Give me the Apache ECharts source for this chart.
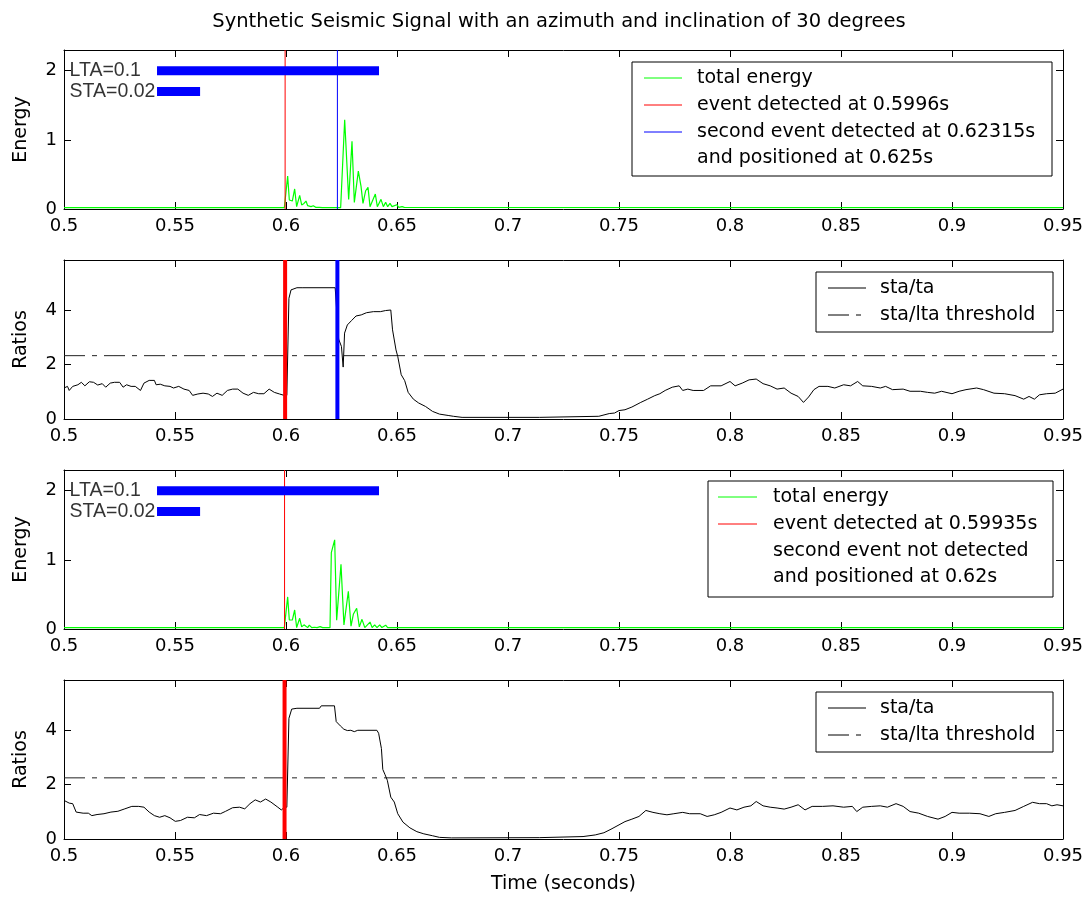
<!DOCTYPE html>
<html><head><meta charset="utf-8">
<script src="https://cdn.jsdelivr.net/npm/echarts@6/dist/echarts.min.js"></script>
<style>html,body{margin:0;padding:0;background:#fff}#c{width:1089px;height:897px}</style>
</head><body><div id="c"></div>
<script>
// ---------------- DATA ----------------
const X_MIN = 0.5, X_MAX = 0.95, X_STEP = 0.05;
const ENERGY_MAX = 2.3, ENERGY_STEP = 1;
const RATIO_MAX = 5.85, RATIO_STEP = 2;

const titleText = 'Synthetic Seismic Signal with an azimuth and inclination of 30 degrees';
const xName = 'Time (seconds)';
const yNames = ['Energy', 'Ratios', 'Energy', 'Ratios'];

// window bars (time range and level)
const ltaLabel = 'LTA=0.1', staLabel = 'STA=0.02';
const ltaBar = [[0.5419, 2.0], [0.6419, 2.0]];
const staBar = [[0.5419, 1.7], [0.5613, 1.7]];
const barLabelT = 0.5025;

// events
const event1 = 0.5996, event1b = 0.62315, event3 = 0.59935;
const threshold2 = 2.33, threshold4 = 2.25;

// panel 1 energy
const energy1T = [0.5,0.59925,0.60075,0.6015,0.60285,0.6039,0.6048,0.60616,0.60706,0.6081,0.609,0.60976,0.6105,0.61126,0.6123,0.61336,0.61411,0.61502,0.61562,0.61637,0.62462,0.62643,0.62823,0.62973,0.63078,0.63258,0.63378,0.63468,0.63589,0.63694,0.63784,0.64024,0.64114,0.6428,0.64384,0.6449,0.6458,0.64685,0.64775,0.6499,0.6508,0.6523,0.6533,0.95];
const energy1V = [0.02,0.02,0.475,0.13,0.115,0.29,0.034,0.197,0.058,0.08,0.115,0.048,0.072,0.034,0.048,0.024,0.043,0.024,0.038,0.019,0.019,1.29,0.139,0.978,0.096,0.547,0.33,0.082,0.264,0.312,0.034,0.216,0.034,0.139,0.034,0.096,0.034,0.082,0.034,0.062,0.024,0.034,0.024,0.02];

// panel 3 energy
const energy3T = [0.5,0.59925,0.60075,0.6015,0.60285,0.6039,0.6048,0.60616,0.60706,0.6081,0.609,0.60976,0.6105,0.6116,0.6128,0.614,0.6154,0.6165,0.61982,0.62042,0.62192,0.62282,0.62477,0.6261,0.62808,0.62928,0.63033,0.63183,0.63303,0.63423,0.6355,0.63784,0.6388,0.63994,0.641,0.6422,0.6432,0.6449,0.6458,0.95];
const energy3V = [0.02,0.02,0.464,0.13,0.13,0.275,0.02,0.155,0.03,0.06,0.085,0.02,0.055,0.02,0.025,0.02,0.035,0.02,0.02,1.106,1.29,0.126,0.937,0.06,0.546,0.04,0.213,0.3,0.03,0.14,0.02,0.1,0.02,0.06,0.02,0.06,0.02,0.055,0.02,0.02];

// panel 2 sta/lta ratio
const ratio2T = [0.5,0.50157,0.50235,0.50392,0.50626,0.50783,0.5094,0.51143,0.51331,0.51519,0.51723,0.51879,0.52083,0.52271,0.52506,0.52662,0.52819,0.53022,0.5321,0.53445,0.53602,0.53837,0.54072,0.5415,0.54338,0.54541,0.54776,0.54933,0.55168,0.55403,0.55638,0.55794,0.56029,0.56264,0.56499,0.56687,0.5689,0.57125,0.5736,0.57595,0.5783,0.58065,0.583,0.58535,0.5877,0.59005,0.5924,0.59474,0.59709,0.59913,0.60038,0.60132,0.60226,0.60492,0.60727,0.62215,0.62371,0.62497,0.62575,0.62638,0.62763,0.6295,0.63154,0.63389,0.63624,0.63937,0.64251,0.64486,0.6472,0.64799,0.64955,0.65034,0.6519,0.65347,0.65503,0.65738,0.65973,0.66286,0.666,0.66913,0.67304,0.67539,0.67931,0.7141,0.7409,0.7456,0.748,0.75,0.7527,0.7558,0.7598,0.7629,0.7661,0.7684,0.7708,0.774,0.7771,0.7787,0.781,0.7834,0.7881,0.7913,0.796,0.8,0.8023,0.8055,0.8086,0.8118,0.8149,0.8181,0.8212,0.8244,0.8275,0.8307,0.8331,0.8354,0.8378,0.8401,0.8441,0.8472,0.8512,0.8543,0.8575,0.8598,0.8638,0.8677,0.8701,0.8732,0.878,0.8811,0.8858,0.889,0.8922,0.8953,0.9,0.9032,0.9063,0.9111,0.9142,0.9189,0.9237,0.9284,0.9323,0.9347,0.9371,0.9394,0.9426,0.9465,0.95];
const ratio2V = [1.14,1.2,1.05,1.2,1.26,1.35,1.22,1.37,1.35,1.25,1.3,1.17,1.32,1.35,1.35,1.17,1.26,1.2,1.2,1.05,1.32,1.42,1.42,1.26,1.28,1.22,1.2,1.14,1.2,1.1,1.05,0.87,0.92,0.95,0.92,0.83,0.95,0.87,1.05,1.1,1.1,0.95,0.87,0.98,0.93,0.93,1.1,0.98,0.92,0.87,0.87,4.44,4.75,4.83,4.83,4.83,2.94,2.67,1.91,3.16,3.46,3.62,3.79,3.83,3.91,3.95,3.95,3.99,4.01,3.28,2.54,2.3,1.63,1.41,0.98,0.73,0.59,0.46,0.28,0.18,0.13,0.1,0.06,0.06,0.1,0.2,0.22,0.31,0.34,0.44,0.61,0.73,0.86,0.93,1.05,1.17,1.22,1.05,1.1,1.05,1.05,1.22,1.22,1.38,1.22,1.32,1.44,1.47,1.3,1.22,1.1,1.14,0.95,0.83,0.61,0.81,1.08,1.2,1.2,1.14,1.26,1.22,1.38,1.22,1.2,1.14,1.2,1.08,1.1,1.02,1.02,0.98,0.95,1.02,0.93,1.02,1.08,1.14,1.08,0.95,0.93,0.86,0.73,0.83,0.73,0.89,0.93,0.95,1.1];

// panel 4 sta/lta ratio
const ratio4T = [0.5,0.50235,0.50392,0.50548,0.50861,0.51096,0.51253,0.51488,0.51801,0.52114,0.52427,0.52741,0.53054,0.53367,0.53602,0.53837,0.54072,0.54307,0.54541,0.54776,0.55011,0.55246,0.55559,0.55873,0.56107,0.56421,0.56734,0.57047,0.57282,0.57595,0.57908,0.58143,0.58378,0.58613,0.58848,0.59083,0.59318,0.59631,0.59788,0.59944,0.60038,0.60132,0.60257,0.60492,0.6151,0.61588,0.62183,0.62262,0.6245,0.62606,0.62763,0.6292,0.63076,0.63233,0.64094,0.64173,0.64298,0.6436,0.64454,0.64564,0.6472,0.64877,0.65034,0.65269,0.65582,0.65895,0.66208,0.666,0.66913,0.67461,0.7141,0.7338,0.7393,0.7432,0.7464,0.75,0.7527,0.7558,0.759,0.7621,0.7653,0.7684,0.7716,0.7747,0.7787,0.7818,0.7866,0.7897,0.7929,0.796,0.8,0.8031,0.8063,0.8094,0.8118,0.8149,0.8181,0.8212,0.8244,0.8275,0.8307,0.8338,0.837,0.8417,0.8464,0.8512,0.8551,0.8571,0.8598,0.8638,0.8677,0.8709,0.8748,0.878,0.8811,0.885,0.889,0.8937,0.8969,0.9,0.9032,0.9079,0.9126,0.9166,0.9197,0.9237,0.9284,0.9323,0.9363,0.9394,0.9426,0.945,0.9473,0.95];
const ratio4V = [1.42,1.32,1.3,0.99,0.95,0.95,0.86,0.9,0.93,0.99,1.02,1.11,1.2,1.2,1.17,0.99,0.86,0.8,0.86,0.78,0.65,0.68,0.8,0.78,0.9,0.86,0.95,0.93,1.02,1.15,1.17,1.11,1.3,1.44,1.36,1.47,1.36,1.17,1.07,1.17,1.17,4.44,4.78,4.81,4.81,4.9,4.9,4.32,4.16,4.04,3.99,4.0,3.95,4.0,4.0,3.89,3.33,2.56,2.38,2.16,1.54,1.36,0.93,0.62,0.41,0.27,0.19,0.12,0.06,0.04,0.05,0.09,0.15,0.23,0.36,0.52,0.64,0.73,0.83,1.05,0.98,0.93,0.89,0.93,0.98,0.93,0.93,0.83,0.89,0.98,1.14,1.07,1.17,1.22,1.38,1.22,1.17,1.14,1.1,1.17,1.26,1.07,1.2,1.2,1.22,1.17,1.2,1.01,1.17,1.2,1.22,1.17,1.3,1.2,1.01,0.95,0.83,0.73,0.83,0.98,0.95,0.95,0.93,0.83,0.93,0.98,1.05,1.2,1.35,1.3,1.3,1.22,1.26,1.22];

const legend1Labels = ['total energy', 'event detected at 0.5996s', 'second event detected at 0.62315s', 'and positioned at 0.625s'];
const legend2Labels = ['sta/ta', 'sta/lta threshold'];
const legend3Labels = ['total energy', 'event detected at 0.59935s', 'second event not detected', 'and positioned at 0.62s'];

// ---------------- STYLE / LAYOUT ----------------
const FONT = 'DejaVu Sans';
const FONT2 = 'Liberation Sans';
const FS = 19, FS_TITLE = 19.5, FS_TICK = 18, FS_BAR = 19.5;
const GREEN = '#00ff00', RED = '#ff0000', BLUE = '#0000ff', BLACK = '#000000';
const DASHDOT = [21, 7, 5, 7];
const PLOT_LEFT = 64, PLOT_W = 999, PLOT_H = 159;
const PLOT_TOPS = [50, 260, 470, 680];

const zip = (T, V) => T.map((t, i) => [t, V[i]]);

function xPair(g, name) {
  const base = {
    type: 'value', gridIndex: g, min: X_MIN, max: X_MAX, interval: X_STEP,
    axisLine: { show: true, onZero: false, lineStyle: { color: BLACK, width: 1 } },
    axisTick: { show: true, inside: true, length: 7, lineStyle: { color: BLACK } },
    splitLine: { show: false }
  };
  return [
    Object.assign({}, base, {
      position: 'bottom',
      axisLabel: { show: true, color: BLACK, fontFamily: FONT, fontSize: FS_TICK, margin: 8,
        showMinLabel: true, showMaxLabel: true, hideOverlap: false,
        formatter: v => String(+(+v).toFixed(2)) },
      name: name || '', nameLocation: 'middle', nameGap: 36,
      nameTextStyle: { color: BLACK, fontFamily: FONT, fontSize: FS }
    }),
    Object.assign({}, base, { position: 'top', axisLabel: { show: false } })
  ];
}
function yPair(g, max, step, name) {
  const base = {
    type: 'value', gridIndex: g, min: 0, max: max, interval: step,
    axisLine: { show: true, onZero: false, lineStyle: { color: BLACK, width: 1 } },
    axisTick: { show: true, inside: true, length: 7, lineStyle: { color: BLACK } },
    splitLine: { show: false }
  };
  return [
    Object.assign({}, base, {
      position: 'left',
      axisLabel: { color: BLACK, fontFamily: FONT, fontSize: FS_TICK, margin: 7,
        formatter: v => Math.abs(v - Math.round(v)) < 1e-9 ? String(Math.round(v)) : '' },
      name: name, nameLocation: 'middle', nameGap: 33, nameRotate: 90,
      nameTextStyle: { color: BLACK, fontFamily: FONT, fontSize: FS }
    }),
    Object.assign({}, base, { position: 'right', axisLabel: { show: false } })
  ];
}

function line(g, data, color, width, extra) {
  return Object.assign({
    type: 'line', xAxisIndex: 2 * g, yAxisIndex: 2 * g, data: data,
    showSymbol: false, symbol: 'none', animation: false, silent: true,
    lineStyle: { color: color, width: width }, z: 2
  }, extra || {});
}
function vline(g, t, ymax, color, width) {
  return line(g, [[t, 0], [t, ymax]], color, width, { z: 3 });
}
function barLabel(g, t, y, text) {
  return {
    type: 'scatter', xAxisIndex: 2 * g, yAxisIndex: 2 * g, data: [[t, y]],
    symbolSize: 0, animation: false, silent: true, z: 5,
    label: { show: true, position: 'right', distance: 0, formatter: text,
      color: BLACK, fontFamily: FONT2, fontSize: FS_BAR }
  };
}

function legendBox(x, y, w, h, rows) {
  const els = [{ type: 'rect', z: 100, shape: { x: x, y: y, width: w, height: h },
    style: { fill: '#fff', stroke: BLACK, lineWidth: 1 } }];
  rows.forEach(r => {
    if (r.color) {
      els.push({ type: 'line', z: 101, shape: { x1: r.lx1, y1: r.y, x2: r.lx2, y2: r.y },
        style: { stroke: r.color, lineWidth: 1, lineDash: r.dash || null } });
    }
    els.push({ type: 'text', z: 101, x: r.tx, y: r.y,
      style: { text: r.text, fill: BLACK, font: FS + 'px "' + FONT + '"',
        fontSize: FS, fontFamily: FONT, align: 'left', verticalAlign: 'middle' } });
  });
  return els;
}

const grids = PLOT_TOPS.map(t => ({ left: PLOT_LEFT, top: t, width: PLOT_W, height: PLOT_H, containLabel: false }));
const xAxes = [].concat(xPair(0), xPair(1), xPair(2), xPair(3, xName));
const yAxes = [].concat(
  yPair(0, ENERGY_MAX, ENERGY_STEP, yNames[0]),
  yPair(1, RATIO_MAX, RATIO_STEP, yNames[1]),
  yPair(2, ENERGY_MAX, ENERGY_STEP, yNames[2]),
  yPair(3, RATIO_MAX, RATIO_STEP, yNames[3]));

const threshStyle = { lineStyle: { color: '#222', width: 1, type: DASHDOT } };
const series = [
  // panel 1
  line(0, zip(energy1T, energy1V), GREEN, 1.2),
  vline(0, event1, ENERGY_MAX, RED, 1),
  vline(0, event1b, ENERGY_MAX, BLUE, 1),
  line(0, ltaBar, BLUE, 9, { z: 4 }),
  line(0, staBar, BLUE, 9, { z: 4 }),
  barLabel(0, barLabelT, ltaBar[0][1], ltaLabel),
  barLabel(0, barLabelT, staBar[0][1], staLabel),
  // panel 2
  line(1, [[X_MIN, threshold2], [X_MAX, threshold2]], '#222', 1, threshStyle),
  line(1, zip(ratio2T, ratio2V), BLACK, 1),
  vline(1, event1, RATIO_MAX, RED, 4),
  vline(1, event1b, RATIO_MAX, BLUE, 4),
  // panel 3
  line(2, zip(energy3T, energy3V), GREEN, 1.2),
  vline(2, event3, ENERGY_MAX, RED, 1),
  line(2, ltaBar, BLUE, 9, { z: 4 }),
  line(2, staBar, BLUE, 9, { z: 4 }),
  barLabel(2, barLabelT, ltaBar[0][1], ltaLabel),
  barLabel(2, barLabelT, staBar[0][1], staLabel),
  // panel 4
  line(3, [[X_MIN, threshold4], [X_MAX, threshold4]], '#222', 1, threshStyle),
  line(3, zip(ratio4T, ratio4V), BLACK, 1),
  vline(3, event3, RATIO_MAX, RED, 4)
];

const graphics = [].concat(
  [{ type: 'text', z: 100, x: 559, y: 22,
     style: { text: titleText, fill: BLACK, font: FS_TITLE + 'px "' + FONT + '"', fontSize: FS_TITLE, fontFamily: FONT,
       align: 'center', verticalAlign: 'middle' } }],
  legendBox(632, 62, 420, 114, [
    { text: legend1Labels[0], color: GREEN, y: 78, lx1: 644, lx2: 682, tx: 697 },
    { text: legend1Labels[1], color: RED, y: 105, lx1: 644, lx2: 682, tx: 697 },
    { text: legend1Labels[2], color: BLUE, y: 132, lx1: 644, lx2: 682, tx: 697 },
    { text: legend1Labels[3], color: null, y: 158, tx: 697 }
  ]),
  legendBox(816, 272, 237, 60, [
    { text: legend2Labels[0], color: BLACK, y: 288, lx1: 828, lx2: 866, tx: 880 },
    { text: legend2Labels[1], color: BLACK, y: 315, lx1: 828, lx2: 866, tx: 880, dash: DASHDOT }
  ]),
  legendBox(708, 481, 345, 116, [
    { text: legend3Labels[0], color: GREEN, y: 497, lx1: 718, lx2: 757, tx: 773 },
    { text: legend3Labels[1], color: RED, y: 524, lx1: 718, lx2: 757, tx: 773 },
    { text: legend3Labels[2], color: null, y: 551, tx: 773 },
    { text: legend3Labels[3], color: null, y: 577, tx: 773 }
  ]),
  legendBox(816, 692, 237, 60, [
    { text: legend2Labels[0], color: BLACK, y: 708, lx1: 828, lx2: 866, tx: 880 },
    { text: legend2Labels[1], color: BLACK, y: 735, lx1: 828, lx2: 866, tx: 880, dash: DASHDOT }
  ])
);

const chart = echarts.init(document.getElementById('c'), null, { renderer: 'canvas' });
chart.setOption({
  backgroundColor: '#fff',
  animation: false,
  textStyle: { fontFamily: FONT },
  grid: grids,
  xAxis: xAxes,
  yAxis: yAxes,
  series: series,
  graphic: graphics
});
</script>
</body></html>
